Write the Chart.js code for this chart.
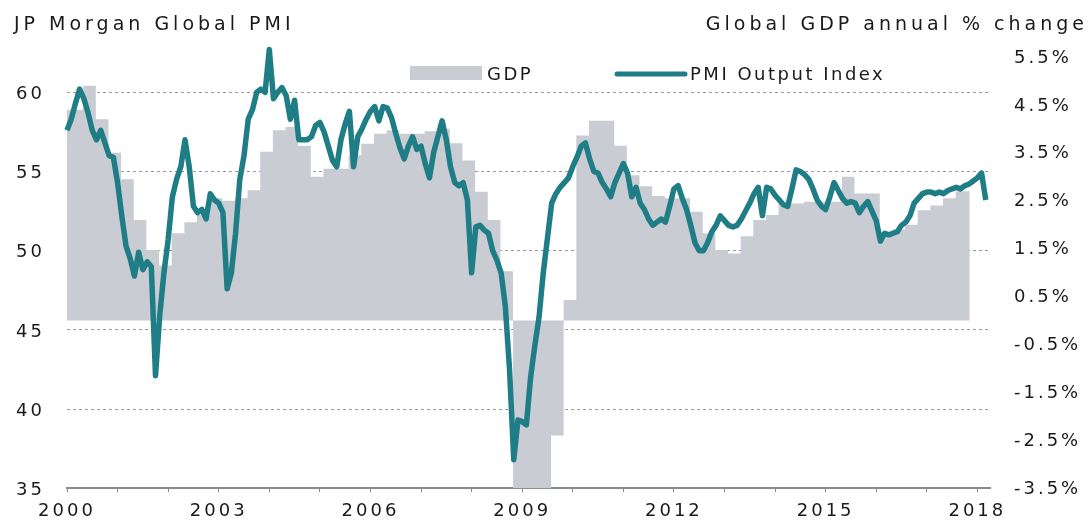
<!DOCTYPE html>
<html>
<head>
<meta charset="utf-8">
<script src="https://cdn.jsdelivr.net/npm/chart.js@4.4.1/dist/chart.umd.min.js"></script>
<style>
  html, body { margin: 0; padding: 0; background: #fff; }
  #wrap { width: 1092px; height: 523px; }
</style>
</head>
<body>
<div id="wrap"><canvas id="myChart" width="1092" height="523"></canvas></div>
<script>
// JP Morgan Global PMI output index, monthly, Jan 2000 .. Mar 2018
const pmiStartYear = 2000;
const pmiValues = [
  57.6, 58.3, 59.3, 60.2, 59.6, 58.7, 57.6, 57.0, 57.6, 56.8, 56.0, 55.9, // 2000
  54.3, 52.2, 50.3, 49.5, 48.4, 49.9, 48.8, 49.3, 49.0, 42.1, 45.9, 48.6, // 2001
  50.7, 53.4, 54.5, 55.3, 57.0, 55.3, 52.8, 52.4, 52.6, 52.0, 53.6, 53.2, // 2002
  53.0, 52.4, 47.6, 48.6, 51.1, 54.5, 56.0, 58.3, 58.9, 60.0, 60.2, 60.0, // 2003
  62.7, 59.6, 60.0, 60.3, 59.8, 58.3, 59.5, 57.0, 57.0, 57.0, 57.2, 57.9, // 2004
  58.1, 57.5, 56.6, 55.7, 55.3, 57.0, 58.0, 58.8, 55.3, 57.2, 57.7, 58.3, // 2005
  58.8, 59.1, 58.2, 59.1, 59.0, 58.4, 57.4, 56.5, 55.8, 56.6, 57.2, 56.4, // 2006
  56.6, 55.5, 54.6, 56.2, 57.2, 58.2, 57.0, 55.3, 54.3, 54.1, 54.3, 53.2, // 2007
  48.6, 51.5, 51.6, 51.3, 51.1, 50.0, 49.4, 48.6, 46.5, 42.5, 36.8, 39.3, // 2008
  39.2, 39.0, 42.0, 44.0, 45.8, 48.6, 50.8, 53.0, 53.6, 54.0, 54.3, 54.6, // 2009
  55.3, 55.9, 56.6, 56.8, 55.8, 55.0, 54.9, 54.3, 53.9, 53.4, 54.3, 54.9, // 2010
  55.5, 54.9, 53.4, 54.0, 53.0, 52.6, 52.0, 51.6, 51.8, 52.0, 51.8, 52.8, // 2011
  53.9, 54.1, 53.3, 52.6, 51.6, 50.5, 50.0, 50.0, 50.5, 51.2, 51.6, 52.2, // 2012
  51.9, 51.6, 51.5, 51.6, 52.0, 52.5, 53.0, 53.6, 54.0, 52.2, 54.0, 53.9, // 2013
  53.5, 53.2, 52.9, 52.8, 53.9, 55.1, 55.0, 54.8, 54.5, 53.9, 53.2, 52.8, // 2014
  52.6, 53.4, 54.3, 53.8, 53.3, 53.0, 53.1, 53.0, 52.4, 52.8, 53.1, 52.5, // 2015
  51.9, 50.6, 51.1, 51.0, 51.1, 51.2, 51.6, 51.8, 52.2, 53.0, 53.3, 53.6, // 2016
  53.7, 53.7, 53.6, 53.7, 53.6, 53.8, 53.9, 54.0, 53.9, 54.1, 54.2, 54.4, // 2017
  54.6, 54.9, 53.2                                                        // 2018
];

// Global GDP annual % change, quarterly steps (first one starts at 2000)
const gdpFirstStep = 2000.07;
const gdpEnd = 2017.85;
const gdpValues = [
  4.4, 4.9, 4.2, 3.5,      // 2000
  2.95, 2.1, 1.47, 1.15,   // 2001
  1.82, 2.05, 2.2, 2.55,   // 2002
  2.5, 2.55, 2.72, 3.52,   // 2003
  3.97, 4.04, 3.65, 3.0,   // 2004
  3.17, 3.17, 3.45, 3.69,  // 2005
  3.9, 3.97, 3.9, 3.9,     // 2006
  3.95, 4.0, 3.7, 3.34,    // 2007
  2.69, 2.1, 1.03, -3.7,   // 2008
  -3.9, -3.7, -2.4, 0.43,  // 2009
  3.86, 4.17, 4.17, 3.65,  // 2010
  3.03, 2.8, 2.6, 2.55,    // 2011
  2.55, 2.27, 1.82, 1.47,  // 2012
  1.40, 1.76, 2.1, 2.2,    // 2013
  2.44, 2.44, 2.48, 2.48,  // 2014
  2.48, 3.0, 2.65, 2.65,   // 2015
  1.85, 1.9, 2.0, 2.3,     // 2016
  2.4, 2.55, 2.7           // 2017
];

const pmiTicks = [35, 40, 45, 50, 55, 60];
const gdpTicks = [-3.5, -2.5, -1.5, -0.5, 0.5, 1.5, 2.5, 3.5, 4.5, 5.5];
const yearLabels = [2000, 2003, 2006, 2009, 2012, 2015, 2018];

const leftTitle = 'JP Morgan Global PMI';
const rightTitle = 'Global GDP annual % change';
const gdpLabel = 'GDP';
const pmiLabel = 'PMI Output Index';

const teal = '#1f7d86';
const barGrey = '#caccd4';
const textColor = '#1a1a1a';
const fontFamily = '"DejaVu Sans", Arial, sans-serif';

// points for the chart
const pmiPoints = pmiValues.map((v, i) => ({ x: pmiStartYear + i / 12, y: v }));
const gdpPoints = gdpValues.map((v, i) => ({ x: i === 0 ? 2000 : gdpFirstStep + i * 0.25, y: v }));
gdpPoints.push({ x: gdpEnd, y: gdpValues[gdpValues.length - 1] });

// the scan has wide letters, so space them out a bit
const spacing = {
  id: 'spacing',
  beforeUpdate(chart) { chart.ctx.letterSpacing = '3px'; },
  beforeDraw(chart) { chart.ctx.letterSpacing = '3px'; }
};

// titles over the axes and the legend
const heading = {
  id: 'heading',
  afterDraw(chart) {
    const ctx = chart.ctx;
    ctx.save();
    ctx.fillStyle = textColor;
    ctx.textBaseline = 'alphabetic';
    ctx.letterSpacing = '4px';
    ctx.font = '19px ' + fontFamily;
    ctx.textAlign = 'left';
    ctx.fillText(leftTitle, 14, 30);
    ctx.textAlign = 'right';
    ctx.fillText(rightTitle, 1088, 30);

    // legend
    ctx.letterSpacing = '2.5px';
    ctx.font = '18px ' + fontFamily;
    ctx.textAlign = 'left';
    ctx.fillStyle = barGrey;
    ctx.fillRect(410, 66, 72, 14);
    ctx.fillStyle = textColor;
    ctx.fillText(gdpLabel, 487, 80);
    ctx.strokeStyle = teal;
    ctx.lineWidth = 5;
    ctx.lineCap = 'round';
    ctx.beginPath();
    ctx.moveTo(617, 74);
    ctx.lineTo(685, 74);
    ctx.stroke();
    ctx.fillText(pmiLabel, 690, 80);
    ctx.restore();
  }
};

const ctx = document.getElementById('myChart').getContext('2d');

const myChart = new Chart(ctx, {
  type: 'line',
  data: {
    datasets: [
      {
        label: pmiLabel,
        data: pmiPoints,
        yAxisID: 'y',
        borderColor: teal,
        borderWidth: 5.5,
        borderJoinStyle: 'round',
        pointRadius: 0,
        tension: 0,
        fill: false,
        clip: false,
        order: 0
      },
      {
        label: gdpLabel,
        data: gdpPoints,
        yAxisID: 'y1',
        stepped: 'before',
        borderWidth: 0,
        borderColor: barGrey,
        backgroundColor: barGrey,
        pointRadius: 0,
        fill: 'origin',
        order: 1
      }
    ]
  },
  options: {
    responsive: false,
    animation: false,
    layout: { padding: { top: 57, left: 0, right: 0, bottom: 0 } },
    plugins: {
      legend: { display: false },
      tooltip: { enabled: false }
    },
    scales: {
      x: {
        type: 'linear',
        min: 2000,
        max: 2018.25,
        afterFit: s => { s.height = 33; },
        afterBuildTicks: s => {
          const t = [];
          for (let yr = 2000; yr <= 2018; yr++) t.push({ value: yr });
          s.ticks = t;
        },
        grid: { drawOnChartArea: false, drawTicks: true, tickLength: 4, color: '#8a8a8a', lineWidth: 1 },
        border: { display: true, color: '#8a8a8a', width: 2 },
        ticks: {
          autoSkip: false,
          maxRotation: 0,
          padding: 8,
          color: textColor,
          font: { size: 18, family: fontFamily },
          callback: v => yearLabels.includes(v) ? String(v) : ''
        }
      },
      y: {
        position: 'left',
        min: 35,
        max: 62.23,
        afterFit: s => { s.width = 67; },
        afterBuildTicks: s => { s.ticks = pmiTicks.map(v => ({ value: v })); },
        grid: {
          drawTicks: false,
          color: c => c.tick && c.tick.value === 35 ? 'rgba(0,0,0,0)' : '#9a9a9a',
          lineWidth: 1
        },
        border: { display: false, dash: [3, 3] },
        ticks: {
          padding: 22,
          labelOffset: 2,
          color: textColor,
          font: { size: 18, family: fontFamily }
        }
      },
      y1: {
        position: 'right',
        min: -3.5,
        max: 5.5,
        afterFit: s => { s.width = 102; },
        afterBuildTicks: s => { s.ticks = gdpTicks.map(v => ({ value: v })); },
        grid: { display: false, drawTicks: false },
        border: { display: false },
        ticks: {
          padding: 24,
          labelOffset: 1,
          color: textColor,
          font: { size: 18, family: fontFamily },
          callback: v => v.toFixed(1) + '%'
        }
      }
    }
  },
  plugins: [spacing, heading]
});
</script>
</body>
</html>
